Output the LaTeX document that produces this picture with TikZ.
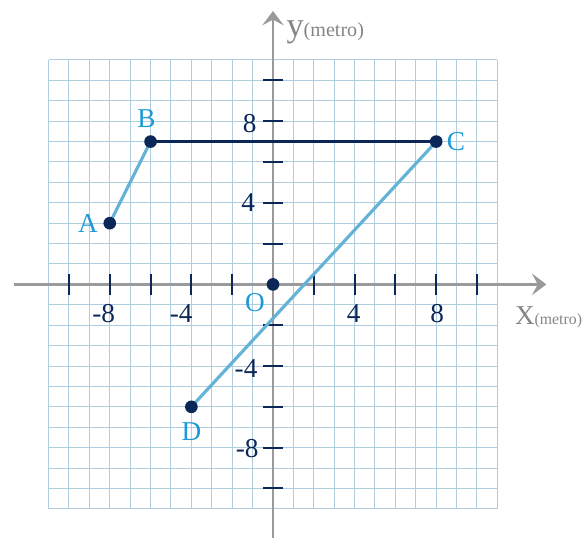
\documentclass[tikz,border=0pt]{standalone}
\usepackage{fontspec}
\setmainfont{Liberation Serif}
\usetikzlibrary{positioning, arrows.meta}

\definecolor{navy}{HTML}{0B2757}
\definecolor{segblue}{HTML}{64B2D6}
\definecolor{labelblue}{HTML}{1C9AD6}
\definecolor{gridblue}{HTML}{B0CDDF}
\definecolor{axisgray}{HTML}{9A9A9A}
\definecolor{textgray}{HTML}{858585}

\begin{document}
\begin{tikzpicture}[
    x=0.5cm, y=0.5cm,
    gridline/.style={gridblue, line width=0.7pt},
    axis/.style={axisgray, line width=2pt,
                 -{Stealth[length=10pt, width=15pt, inset=4pt]}},
    tickmark/.style={navy, line width=1.4pt},
    num/.style={text=navy, font=\fontsize{19}{19}\selectfont, inner sep=1pt},
    ptlabel/.style={text=labelblue, font=\fontsize{19}{19}\selectfont, inner sep=1pt},
    seg/.style={segblue, line width=2.2pt},
    dot/.style={fill=navy}
]
\useasboundingbox (-13.38,-12.39) rectangle (15.245,13.94);
% Grid
\draw[gridline, step=0.5cm] (-11,-11) grid (11,11);
% Axes
\coordinate (xstart) at (-12.7,0);
\coordinate (xend) at (13.4,0);
\coordinate (ystart) at (0,-12.5);
\coordinate (yend) at (0,13.4);
\draw[axis] (xstart) -- (xend);
\draw[axis] (ystart) -- (yend);
\foreach \t in {-10,-8,-6,-4,-2,2,4,6,8,10} {
  \draw[tickmark] (\t,-0.5) -- (\t,0.5);
  \draw[tickmark] (-0.47,\t) -- (0.47,\t);
}
% Axis numbers
\node[num] (xm8) at (-8.3,-1.42) {-8};
\node[num] (xm4) at (-4.5,-1.42) {-4};
\node[num] (xp4) at (3.95,-1.42) {4};
\node[num] (xp8) at (8.05,-1.42) {8};
\node[num, anchor=east] (yp8) at (-0.72,7.9) {8};
\node[num, anchor=east] (yp4) at (-0.8,4.03) {4};
\node[num, anchor=east] (ym4) at (-0.68,-4.1) {-4};
\node[num, anchor=east] (ym8) at (-0.62,-8.04) {-8};
% Axis names
\node[anchor=base west, inner sep=0, text=textgray] (ylab) at (0.65,12.15)
     {\fontsize{24}{24}\selectfont y\fontsize{14}{14}\selectfont(metro)};
\node[anchor=base west, inner sep=0, text=textgray] (xlab) at (11.85,-1.99)
     {\fontsize{19}{19}\selectfont X\fontsize{11}{11}\selectfont(metro)};
% Points
\coordinate (A) at (-8,3);
\coordinate (B) at (-6,7);
\coordinate (C) at (8,7);
\coordinate (D) at (-4,-6);
\coordinate (O) at (0,0);
\draw[seg] (A) -- (B);
\draw[seg] (D) -- (C);
\draw[navy, line width=2.4pt] (B) -- (C);
\foreach \p in {A,B,C,D,O}
  \fill[dot] (\p) circle[radius=0.155cm];
\node[ptlabel, left=0.25cm of A] (Alab) {A};
\node[ptlabel, above=0.3cm of B, xshift=-0.1cm] (Blab) {B};
\node[ptlabel, right=0.22cm of C] (Clab) {C};
\node[ptlabel, below=0.35cm of D] (Dlab) {D};
\node[ptlabel, below left=0.19cm and 0.16cm of O] (Olab) {O};
\end{tikzpicture}
\end{document}
